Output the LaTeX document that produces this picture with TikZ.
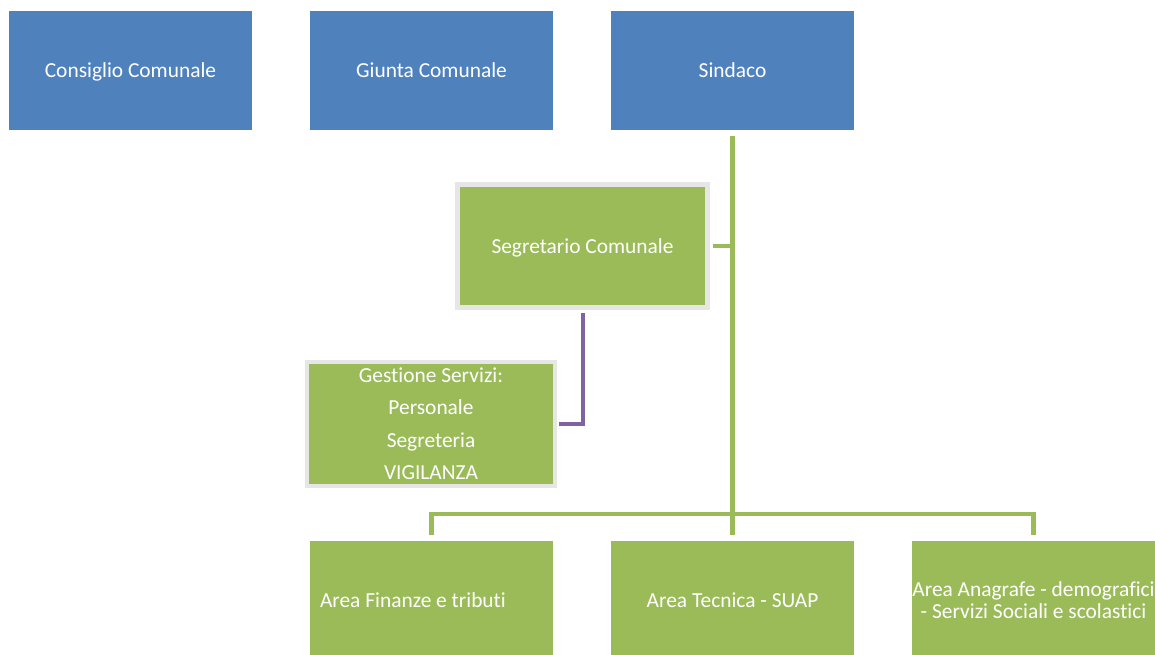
\documentclass[tikz,border=0pt]{standalone}
\usepackage{fontspec}
\setmainfont{Carlito}[Ligatures=NoCommon]
\usetikzlibrary{calc}
\definecolor{boxblue}{HTML}{4F81BD}
\definecolor{boxgreen}{HTML}{9BBB59}
\definecolor{linepurple}{HTML}{8064A2}
\definecolor{rimgray}{HTML}{E6E6E6}
\tikzstyle{bluebox}=[fill=boxblue, text=white, minimum width=243pt, minimum height=119pt, inner sep=0pt, text depth=0pt, font=\fontsize{21.4}{22}\selectfont]
\tikzstyle{greenbox}=[bluebox, fill=boxgreen, align=center]
\tikzstyle{rimbox}=[greenbox, draw=rimgray]
\tikzstyle{greenline}=[draw=boxgreen, line width=4.5pt]
\tikzstyle{purpleline}=[draw=linepurple, line width=4pt]
\begin{document}
\begin{tikzpicture}[x=1pt,y=-1pt]
	\useasboundingbox (0,0) rectangle (1155,655);
	\clip (0,0) rectangle (1155,655);
	% top row
	\node[bluebox] (consiglio) at (130.5,70.5) {Consiglio Comunale};
	\node[bluebox] (giunta) at (431.5,70.5) {Giunta Comunale};
	\node[bluebox] (sindaco) at (732.5,70.5) {Sindaco};
	% staff
	\node[rimbox, line width=5pt, minimum width=250pt, minimum height=123pt] (segretario) at (582.5,246) {Segretario Comunale};
	\node[rimbox, line width=4pt, minimum width=248pt, minimum height=124pt, font=\fontsize{21.4}{32.5}\selectfont] (gestione) at (431,423.5) {Gestione Servizi:\\Personale\\Segreteria\\VIGILANZA};
	% areas
	\node[greenbox, text width=223pt, align=flush left] (finanze) at (431.5,600.5) {Area Finanze e tributi};
	\node[greenbox] (tecnica) at (732.5,600.5) {Area Tecnica - SUAP};
	\node[greenbox] (anagrafe) at (1033.5,600.5) {Area Anagrafe - demografici\\- Servizi Sociali e scolastici};
	\coordinate (bus) at ($(tecnica.north)+(0,-27)$);
	\draw[greenline] ([yshift=-6pt]sindaco.south) -- ([yshift=6pt]tecnica.north);
	\draw[greenline] ([xshift=2.5pt]segretario.east) -- (segretario.east -| sindaco.south);
	\draw[greenline] ([yshift=6pt]finanze.north) |- (bus) -| ([yshift=6pt]anagrafe.north);
	\draw[purpleline] ([yshift=-2.5pt]segretario.south) |- ([xshift=2pt]gestione.east);
\end{tikzpicture}
\end{document}
